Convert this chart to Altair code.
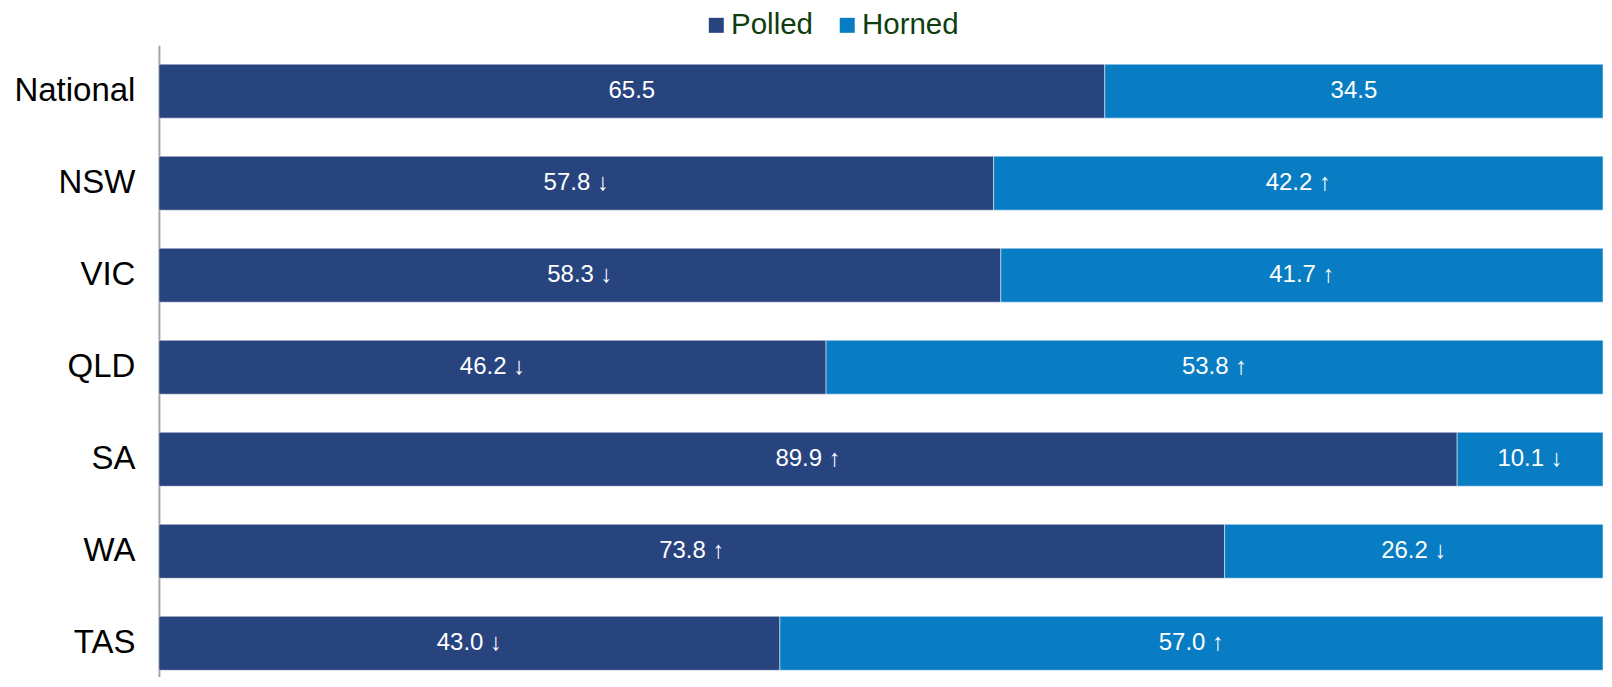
import altair as alt
import pandas as pd

regions = ["National", "NSW", "VIC", "QLD", "SA", "WA", "TAS"]
polled = [65.5, 57.8, 58.3, 46.2, 89.9, 73.8, 43.0]
horned = [34.5, 42.2, 41.7, 53.8, 10.1, 26.2, 57.0]
polled_arrow = ["", "↓", "↓", "↓", "↑", "↑", "↓"]
horned_arrow = ["", "↑", "↑", "↑", "↓", "↓", "↑"]
types = ["Polled", "Horned"]
colors = ["#27447F", "#087DC3"]

rows = []
for r, p, h, pa, ha in zip(regions, polled, horned, polled_arrow, horned_arrow):
    rows.append(dict(region=r, type="Polled", value=p, start=0.0, end=p,
                     label=(f"{p:.1f} {pa}").strip()))
    rows.append(dict(region=r, type="Horned", value=h, start=p, end=p + h,
                     label=(f"{h:.1f} {ha}").strip()))
df = pd.DataFrame(rows)

y_enc = alt.Y(
    "region:N",
    sort=regions,
    scale=alt.Scale(paddingInner=0.4136, paddingOuter=0.1385, align=0.745),
    axis=alt.Axis(
        title=None, ticks=False, grid=False,
        labelFontSize=33, labelColor="black", labelFont="Liberation Sans",
        labelPadding=24, domainColor="#A6A6A6", domainWidth=2, minExtent=151,
    ),
)

base = alt.Chart(df)

bars = base.mark_bar(stroke="white", strokeWidth=0.5).encode(
    y=y_enc,
    x=alt.X("start:Q", scale=alt.Scale(domain=[0, 100], nice=False), axis=None),
    x2="end:Q",
    color=alt.Color(
        "type:N",
        scale=alt.Scale(domain=types, range=colors),
        legend=alt.Legend(
            title=None, orient="none", direction="horizontal",
            legendX=543, legendY=-35,
            symbolType="square", symbolSize=225, symbolStrokeWidth=0,
            symbolOpacity=1,
            labelFontSize=29.5, labelFont="Liberation Sans", labelColor="#0F3D0F",
            labelOffset=0, columnPadding=19,
        ),
    ),
)

text = base.transform_calculate(
    mid="(datum.start + datum.end) / 2"
).mark_text(color="white", fontSize=24, font="Liberation Sans", baseline="middle").encode(
    y=alt.Y("region:N", sort=regions),
    x=alt.X("mid:Q"),
    text="label:N",
)

chart = alt.layer(bars, text).properties(
    width=1445, height=632,
    padding={"top": 2, "left": 0, "right": 0, "bottom": 0},
).configure_view(stroke=None)

chart.save("out.html", embed_options={"renderer": "svg", "actions": False})
